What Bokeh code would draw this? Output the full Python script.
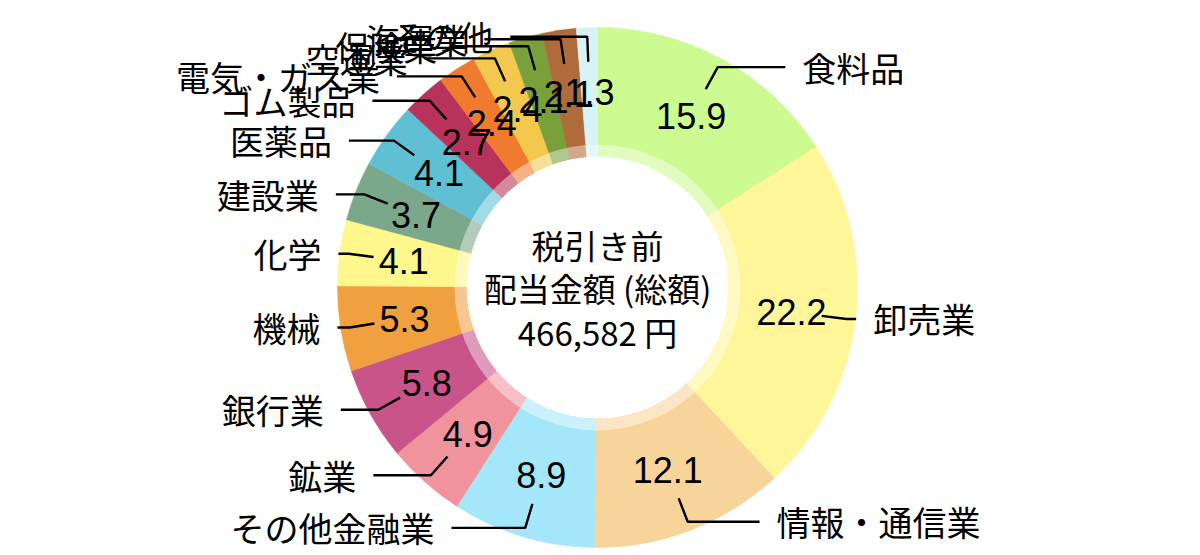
import numpy as np
from bokeh.plotting import figure
from bokeh.models import Range1d, ColumnDataSource
from bokeh.core.properties import value
from bokeh.embed import file_html
from bokeh.resources import INLINE

# ---- data ----
categories = ["食料品", "卸売業", "情報・通信業", "その他金融業", "鉱業", "銀行業",
              "機械", "化学", "建設業", "医薬品", "ゴム製品", "電気・ガス業",
              "空運業", "保険業", "海運業", "その他"]
shares = [15.9, 22.2, 12.1, 8.9, 4.9, 5.8, 5.3, 4.1, 3.7, 4.1, 2.7, 2.4,
          2.4, 2.1, 2.1, 1.3]
share_labels = ["15.9", "22.2", "12.1", "8.9", "4.9", "5.8", "5.3", "4.1", "3.7",
                "4.1", "2.7", "2.4", "2.4", "2.1", "2.1", "1.3"]
palette = ["#CDFA91", "#FFF69A", "#F6D49A", "#A4E7FA", "#F0939D", "#C9548A",
           "#F0A03E", "#FDF78C", "#7BA88A", "#5FC0D4", "#B8335B", "#F07A2D",
           "#F2C94D", "#79A03B", "#B06B3B", "#D6F3F8"]
center_lines = ["税引き前", "配当金額 (総額)", "466,582 円"]

# ---- layout ----
W, H = 1200, 555
cx, cy = 597.0, -287.0
R_OUT, R_TRANS, R_HOLE = 260.0, 143.0, 131.0
R_VAL, R_L0, R_L1 = 195.5, 226.0, 251.0
L2, GAP = 77.0, 17.0

p = figure(width=W, height=H, x_range=Range1d(0, W), y_range=Range1d(-H, 0),
           output_backend="svg", toolbar_location=None, min_border=0,
           x_axis_location=None, y_axis_location=None)
p.grid.visible = False
p.outline_line_color = None
p.background_fill_color = "white"
p.border_fill_color = "white"

vals = np.array(shares, dtype=float)
frac = vals / vals.sum()
theta_end = np.cumsum(frac) * 2 * np.pi
theta_start = theta_end - frac * 2 * np.pi
mid = (theta_start + theta_end) / 2

src = ColumnDataSource(dict(
    start=np.pi / 2 - theta_end,
    end=np.pi / 2 - theta_start,
    color=palette,
))
p.wedge(x=cx, y=cy, radius=R_OUT, start_angle="start", end_angle="end",
        direction="anticlock", fill_color="color", line_color="color",
        line_width=0.6, source=src)

# translucent ring and hole
p.annulus(x=cx, y=cy, inner_radius=R_HOLE, outer_radius=R_TRANS,
          fill_color="white", fill_alpha=0.42, line_color=None)
p.circle(x=cx, y=cy, radius=R_HOLE, fill_color="white", line_color=None)

sx, sy = np.sin(mid), np.cos(mid)

# value labels
p.text(x=cx + R_VAL * sx, y=cy + R_VAL * sy, text=share_labels,
       text_align="center", text_baseline="middle",
       text_font=value("Liberation Sans"), text_font_size="36px", text_color="black")

# leader lines and category labels
xs, ys, lx, ly, al = [], [], [], [], []
for i in range(len(categories)):
    x0, y0 = cx + R_L0 * sx[i], cy + R_L0 * sy[i]
    x1, y1 = cx + R_L1 * sx[i], cy + R_L1 * sy[i]
    right = sx[i] >= 0
    d = L2 * abs(sy[i])
    x2 = x1 + d if right else x1 - d
    xs.append([x0, x1, x2])
    ys.append([y0, y1, y1])
    lx.append(x2 + GAP if right else x2 - GAP)
    ly.append(y1)
    al.append("left" if right else "right")

p.multi_line(xs=xs, ys=ys, line_color="black", line_width=2.4)
p.text(x=lx, y=ly, text=categories, text_align=al, text_baseline="middle",
       text_font=value("Noto Sans CJK JP"), text_font_size="34px", text_color="black")

# center text
p.text(x=[cx] * 3, y=[cy + 43, cy, cy - 44], text=center_lines,
       text_align="center", text_baseline="middle",
       text_font=value("Noto Sans CJK JP"), text_font_size="33px", text_color="black")

open("out.html", "w").write(file_html(p, INLINE))
